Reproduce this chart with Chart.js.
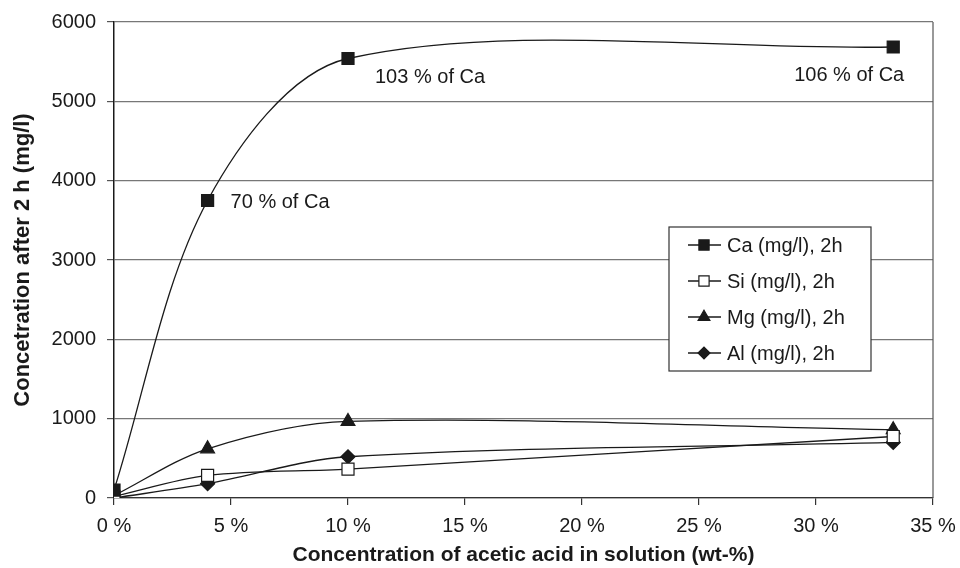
<!DOCTYPE html>
<html>
<head>
<meta charset="utf-8">
<script src="https://cdn.jsdelivr.net/npm/chart.js@4"></script>
<style>
  html, body { margin: 0; padding: 0; background: #fff; }
  #wrap { width: 960px; height: 568px; }
</style>
</head>
<body>
<div id="wrap"><canvas id="chart"></canvas></div>
<script>
// acetic acid concentration (wt-%)
const acidConc = [0, 4, 10, 33.3];
const caValues = [100, 3750, 5540, 5685];
const siValues = [20, 285, 365, 775];
const mgValues = [30, 620, 965, 860];
const alValues = [0, 180, 520, 700];
const seriesNames = ["Ca (mg/l), 2h", "Si (mg/l), 2h", "Mg (mg/l), 2h", "Al (mg/l), 2h"];
const caNotes = ["", "70 % of Ca", "103 % of Ca", "106 % of Ca"];
const xTicks = [0, 5, 10, 15, 20, 25, 30, 35];
const yTicks = [0, 1000, 2000, 3000, 4000, 5000, 6000];

const FONT = "'Liberation Sans', Arial, sans-serif";
const ink = "#1a1a1a";

function pts(vals) {
  return acidConc.map((x, i) => ({ x: x, y: vals[i] }));
}

function series(label, vals, style, fill, radius) {
  return {
    label: label,
    data: pts(vals),
    borderColor: ink,
    borderWidth: 1.3,
    pointStyle: style,
    pointRadius: radius,
    pointBackgroundColor: fill,
    pointBorderColor: ink,
    pointBorderWidth: 1.2,
    tension: 0.32,
    fill: false
  };
}

// plot frame (right border) and notes next to the Ca points
const framePlugin = {
  id: "frame",
  afterDatasetsDraw(chart) {
    const ctx = chart.ctx;
    const a = chart.chartArea;
    ctx.save();
    ctx.strokeStyle = "#555";
    ctx.lineWidth = 1.2;
    ctx.beginPath();
    ctx.moveTo(a.right, a.top);
    ctx.lineTo(a.right, a.bottom);
    ctx.stroke();

    const meta = chart.getDatasetMeta(0);
    ctx.fillStyle = ink;
    ctx.font = "20px " + FONT;
    ctx.textBaseline = "middle";
    caNotes.forEach((t, i) => {
      if (!t) return;
      const p = meta.data[i];
      if (i === caNotes.length - 1) {
        ctx.textAlign = "right";
        ctx.fillText(t, p.x + 11, p.y + 28);
      } else if (i === 1) {
        ctx.textAlign = "left";
        ctx.fillText(t, p.x + 23, p.y + 2);
      } else {
        ctx.textAlign = "left";
        ctx.fillText(t, p.x + 27, p.y + 19);
      }
    });
    ctx.restore();
  }
};

// boxed legend inside the plot
const legendBoxPlugin = {
  id: "legendBox",
  afterDraw(chart) {
    const ctx = chart.ctx;
    const bx = 669, by = 227, bw = 202, bh = 144;
    ctx.save();
    ctx.fillStyle = "#fff";
    ctx.fillRect(bx, by, bw, bh);
    ctx.strokeStyle = "#333";
    ctx.lineWidth = 1.2;
    ctx.strokeRect(bx, by, bw, bh);
    ctx.font = "20px " + FONT;
    ctx.textBaseline = "middle";
    ctx.textAlign = "left";
    chart.data.datasets.forEach((ds, i) => {
      const y = by + 18 + i * 36;
      ctx.strokeStyle = ink;
      ctx.lineWidth = 1.3;
      ctx.beginPath();
      ctx.moveTo(bx + 19, y);
      ctx.lineTo(bx + 52, y);
      ctx.stroke();
      ctx.fillStyle = ds.pointBackgroundColor;
      ctx.strokeStyle = ink;
      ctx.lineWidth = 1.2;
      Chart.helpers.drawPoint(ctx, { pointStyle: ds.pointStyle, radius: ds.pointRadius * 0.85, rotation: 0, borderWidth: 1.2 }, bx + 35, y);
      ctx.fillStyle = ink;
      ctx.fillText(ds.label, bx + 58, y + 1);
    });
    ctx.restore();
  }
};

new Chart(document.getElementById("chart"), {
  type: "line",
  data: {
    datasets: [
      series(seriesNames[0], caValues, "rect", ink, 8.5),
      series(seriesNames[1], siValues, "rect", "#fff", 8.5),
      series(seriesNames[2], mgValues, "triangle", ink, 8),
      series(seriesNames[3], alValues, "rectRot", ink, 7)
    ]
  },
  options: {
    responsive: true,
    maintainAspectRatio: false,
    animation: false,
    layout: { padding: { top: 22, right: 27, left: 0, bottom: 0 } },
    plugins: {
      legend: { display: false },
      tooltip: { enabled: false }
    },
    scales: {
      x: {
        type: "linear",
        min: 0,
        max: 35,
        afterFit: (s) => { s.height = 70; s.paddingLeft = 0; s.paddingRight = 0; },
        afterBuildTicks: (s) => { s.ticks = xTicks.map(v => ({ value: v })); },
        grid: { drawOnChartArea: false, drawTicks: true, tickLength: 7, color: "#333", lineWidth: 1.2 },
        border: { color: "#333", width: 1.2 },
        ticks: {
          color: ink,
          padding: 9,
          maxRotation: 0,
          font: { family: FONT, size: 20 },
          callback: (v) => v + " %"
        },
        title: {
          display: true,
          text: "Concentration of acetic acid in solution (wt-%)",
          color: ink,
          font: { family: FONT, size: 21, weight: "bold" },
          padding: { top: 0, bottom: 0 }
        }
      },
      y: {
        min: 0,
        max: 6000,
        afterFit: (s) => { s.width = 114; s.paddingTop = 0; s.paddingBottom = 0; },
        afterBuildTicks: (s) => { s.ticks = yTicks.map(v => ({ value: v })); },
        grid: { color: "#777", lineWidth: 1.2, drawTicks: true, tickLength: 7, tickColor: "#555" },
        border: { color: ink, width: 1.5 },
        ticks: {
          color: ink,
          padding: 11,
          font: { family: FONT, size: 20 },
          callback: (v) => String(v)
        },
        title: {
          display: true,
          text: "Concetration after 2 h (mg/l)",
          color: ink,
          font: { family: FONT, size: 22, weight: "bold" },
          padding: { top: 10, bottom: 0 }
        }
      }
    }
  },
  plugins: [framePlugin, legendBoxPlugin]
});
</script>
</body>
</html>
